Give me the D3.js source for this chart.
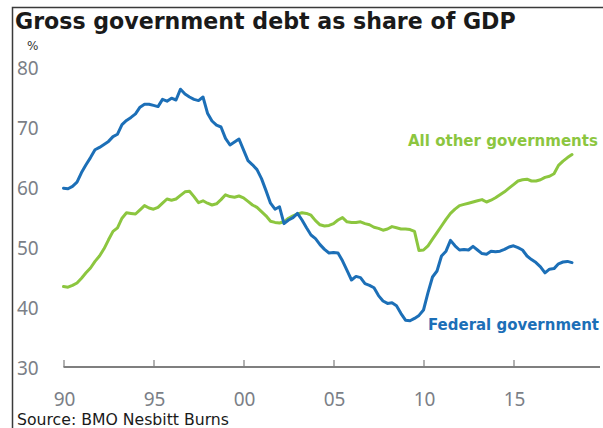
<!DOCTYPE html>
<html><head><meta charset="utf-8">
<script src="https://cdn.jsdelivr.net/npm/d3@7"></script>
<style>html,body{margin:0;padding:0;background:#fff;}svg{display:block;}</style>
</head><body>
<svg id="c" width="603" height="428"></svg>
<script>
// ---- data (quarterly, starting 1990 Q1) ----
const startYear = 1990;
const federal = [
59.8,59.7,60.1,60.8, 62.4,63.7,64.9,66.2, 66.6,67.1,67.6,68.4, 68.8,70.4,71.1,71.6,
72.2,73.3,73.8,73.8, 73.6,73.4,74.6,74.3, 74.8,74.5,76.3,75.5, 75.0,74.6,74.4,75.0,
72.3,71.0,70.3,70.0, 68.1,67.0,67.5,68.0, 66.2,64.4,63.7,62.9, 61.4,59.4,57.3,56.3,
56.7,53.9,54.5,54.9, 55.6,54.5,53.2,52.0, 51.4,50.4,49.6,49.0, 49.1,49.0,47.7,46.1,
44.5,45.1,44.9,43.9, 43.6,43.2,41.9,41.0, 40.6,40.7,40.2,38.9, 37.8,37.7,38.1,38.6,
39.5,42.4,45.0,46.0, 48.5,49.3,51.1,50.2, 49.5,49.6,49.5,50.1, 49.5,48.9,48.8,49.3,
49.2,49.3,49.6,50.0, 50.2,49.9,49.5,48.5, 47.9,47.4,46.7,45.7, 46.3,46.4,47.2,47.5,
47.6,47.4
];
const otherGov = [
43.4,43.3,43.6,44.0, 44.8,45.7,46.5,47.6, 48.5,49.7,51.2,52.6, 53.2,54.8,55.7,55.6,
55.5,56.2,56.9,56.5, 56.3,56.6,57.3,58.0, 57.8,58.0,58.6,59.2, 59.3,58.4,57.4,57.7,
57.3,57.0,57.2,57.9, 58.7,58.4,58.3,58.5, 58.2,57.6,57.0,56.6, 55.9,55.2,54.3,54.1,
54.0,54.2,54.8,55.2, 55.5,55.7,55.6,55.3, 54.4,53.7,53.5,53.6, 53.9,54.5,54.9,54.2,
54.1,54.1,54.2,53.9, 53.7,53.3,53.1,52.8, 53.0,53.4,53.2,53.0, 53.0,52.9,52.6,49.4,
49.5,50.2,51.3,52.4, 53.5,54.6,55.6,56.3, 56.9,57.1,57.3,57.5, 57.7,57.9,57.5,57.8,
58.2,58.7,59.2,59.8, 60.4,61.0,61.2,61.3, 61.0,61.0,61.2,61.6, 61.8,62.2,63.6,64.3,
64.9,65.4
];
const xTickYears = [1990, 1995, 2000, 2005, 2010, 2015];
const xTickLabels = ["90", "95", "00", "05", "10", "15"];
const yTicks = [30, 40, 50, 60, 70, 80];
const seriesNames = ["Federal government", "All other governments"];
const title = "Gross government debt as share of GDP";
const unitLabel = "%";
const source = "Source: BMO Nesbitt Burns";

// ---- drawing ----
const svg = d3.select("#c");
const x = d3.scaleLinear().domain([1990, 2020]).range([63.5, 603.5]);
const y = d3.scaleLinear().domain([30, 80]).range([367, 67]);
const quarters = federal.map((_, i) => startYear + i / 4);

function fitText(sel, width) {
  const fs = parseFloat(sel.attr("font-size"));
  const w = sel.node().getComputedTextLength();
  sel.attr("font-size", (fs * width / w).toFixed(2));
}

// frame
svg.append("path").attr("d", "M12.5,428 V7.5 H603")
  .attr("fill", "none").attr("stroke", "#3a3a3a").attr("stroke-width", 1.5);

// title
const t = svg.append("text").attr("x", 15).attr("y", 29)
  .attr("font-family", "DejaVu Sans").attr("font-weight", "bold")
  .attr("font-size", 20).attr("fill", "#1a1a1a").text(title);
fitText(t, 501);

svg.append("text").attr("x", 27).attr("y", 50)
  .attr("font-family", "DejaVu Sans").attr("font-size", 12)
  .attr("fill", "#333").text(unitLabel);

// y tick labels
svg.append("g").selectAll("text").data(yTicks).join("text")
  .attr("x", 17).attr("y", d => y(d) + 1.5)
  .attr("dy", "0.35em")
  .attr("font-family", "Noto Sans").attr("font-size", 19)
  .attr("fill", "#7b7f87").text(d => d);

// x axis
const xAxis = d3.axisTop(x).tickValues(xTickYears).tickSize(7).tickFormat("");
const gx = svg.append("g").attr("transform", `translate(0,${y(30)})`).call(xAxis);
gx.select(".domain").attr("d", `M${x(1990)},0H600`).attr("stroke", "#7f7f7f").attr("stroke-width", 2);
gx.selectAll(".tick line").attr("stroke", "#7f7f7f").attr("stroke-width", 1.2);

svg.append("g").selectAll("text").data(xTickYears).join("text")
  .attr("x", d => x(d) + 1).attr("y", 399).attr("dy", "0.35em")
  .attr("text-anchor", "middle")
  .attr("font-family", "Noto Sans").attr("font-size", 19)
  .attr("fill", "#7b7f87").text((d, i) => xTickLabels[i]);

// lines
const line = d3.line().x((d, i) => x(quarters[i])).y(d => y(d));
svg.append("path").datum(otherGov).attr("d", line)
  .attr("fill", "none").attr("stroke", "#8cc63f").attr("stroke-width", 3)
  .attr("stroke-linejoin", "round").attr("stroke-linecap", "round");
svg.append("path").datum(federal).attr("d", line)
  .attr("fill", "none").attr("stroke", "#1c6fb7").attr("stroke-width", 3)
  .attr("stroke-linejoin", "round").attr("stroke-linecap", "round");

// series labels
const l1 = svg.append("text").attr("x", 408).attr("y", 146)
  .attr("font-family", "DejaVu Sans").attr("font-weight", "bold")
  .attr("font-size", 14).attr("fill", "#8cc63f").text(seriesNames[1]);
fitText(l1, 190);
const l2 = svg.append("text").attr("x", 428).attr("y", 330)
  .attr("font-family", "DejaVu Sans").attr("font-weight", "bold")
  .attr("font-size", 14).attr("fill", "#1c6fb7").text(seriesNames[0]);
fitText(l2, 171);

// source
const s = svg.append("text").attr("x", 17).attr("y", 425)
  .attr("font-family", "DejaVu Sans").attr("font-size", 14)
  .attr("fill", "#1a1a1a").text(source);
fitText(s, 212);
</script>
</body></html>
